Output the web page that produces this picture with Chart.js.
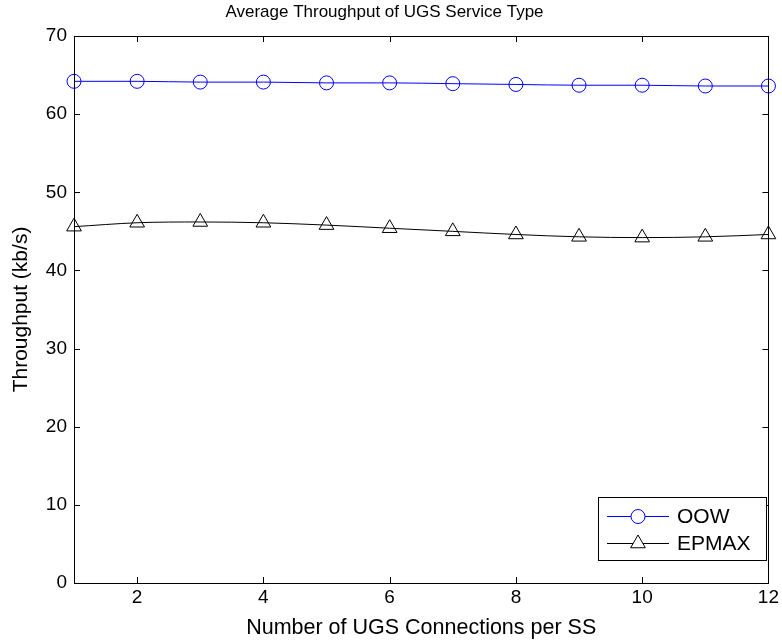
<!DOCTYPE html>
<html>
<head>
<meta charset="utf-8">
<script src="https://cdn.jsdelivr.net/npm/chart.js@4"></script>
<style>
  body { margin: 0; background: #fff; }
  canvas { display: block; }
</style>
</head>
<body>
<canvas id="ugs_chart" width="782" height="643"></canvas>
<script>
const connections = [1,2,3,4,5,6,7,8,9,10,11,12];
const oow_values = [64.2,64.2,64.1,64.1,64.0,64.0,63.9,63.8,63.7,63.7,63.6,63.6];
const epmax_values = [45.6,46.1,46.2,46.1,45.8,45.4,45.0,44.6,44.3,44.2,44.3,44.6];
const x_ticks = [2,4,6,8,10,12];
const y_ticks = [0,10,20,30,40,50,60,70];

const font_family = '"Liberation Sans", Arial, Helvetica, sans-serif';

// box round the plot, ticks pointing in, and the legend inside the plot
const matlab_frame = {
  id: 'matlab_frame',
  afterDraw(chart) {
    const ctx = chart.ctx;
    const area = chart.chartArea;
    const xs = chart.scales.x, ys = chart.scales.y;
    ctx.save();
    ctx.strokeStyle = '#000';
    ctx.lineWidth = 1;
    ctx.beginPath();
    x_ticks.forEach(v => {
      const px = Math.round(xs.getPixelForValue(v)) + 0.5;
      ctx.moveTo(px, area.bottom); ctx.lineTo(px, area.bottom - 6);
      ctx.moveTo(px, area.top); ctx.lineTo(px, area.top + 6);
    });
    y_ticks.forEach(v => {
      const py = Math.round(ys.getPixelForValue(v)) + 0.5;
      ctx.moveTo(area.left, py); ctx.lineTo(area.left + 6, py);
      ctx.moveTo(area.right, py); ctx.lineTo(area.right - 6, py);
    });
    ctx.stroke();
    ctx.strokeRect(Math.round(area.left) + 0.5, Math.round(area.top) + 0.5,
      Math.round(area.right - area.left), Math.round(area.bottom - area.top));

    // legend
    const box = {left: 598, top: 497, right: 766, bottom: 560};
    ctx.fillStyle = '#fff';
    ctx.fillRect(box.left, box.top, box.right - box.left, box.bottom - box.top);
    ctx.strokeStyle = '#000';
    ctx.strokeRect(box.left + 0.5, box.top + 0.5, box.right - box.left, box.bottom - box.top);
    const rows = [516, 543];
    chart.data.datasets.forEach((ds, i) => {
      const y = rows[i] + 0.5;
      ctx.strokeStyle = ds.borderColor;
      ctx.beginPath();
      ctx.moveTo(607, y); ctx.lineTo(669, y);
      ctx.stroke();
      ctx.fillStyle = '#fff';
      Chart.helpers.drawPoint(ctx, {pointStyle: ds.pointStyle, radius: ds.pointRadius, borderWidth: 1}, 638, y);
      ctx.fillStyle = '#000';
      ctx.font = '21px ' + font_family;
      ctx.textBaseline = 'middle';
      ctx.textAlign = 'left';
      ctx.fillText(ds.label, 677, y + 1);
    });
    ctx.restore();
  }
};

new Chart(document.getElementById('ugs_chart'), {
  type: 'line',
  data: {
    labels: connections,
    datasets: [{
      label: 'OOW',
      data: oow_values,
      borderColor: '#0000ff',
      borderWidth: 1,
      pointStyle: 'circle',
      pointRadius: 7,
      pointBorderColor: '#0000ff',
      pointBackgroundColor: 'rgba(0,0,0,0)',
      cubicInterpolationMode: 'monotone',
      clip: false
    }, {
      label: 'EPMAX',
      data: epmax_values,
      borderColor: '#000000',
      borderWidth: 1,
      pointStyle: 'triangle',
      pointRadius: 8.5,
      pointBorderColor: '#000000',
      pointBackgroundColor: 'rgba(0,0,0,0)',
      cubicInterpolationMode: 'monotone',
      clip: false
    }]
  },
  options: {
    responsive: false,
    animation: false,
    layout: { padding: { left: 0, right: 13, top: 0, bottom: 0 } },
    plugins: {
      legend: { display: false },
      tooltip: { enabled: false },
      title: {
        display: true,
        text: 'Average Throughput of UGS Service Type',
        color: '#000',
        font: { family: font_family, size: 17, weight: 'normal' },
        padding: { top: 2, bottom: 13.6 }
      }
    },
    scales: {
      x: {
        type: 'linear',
        min: 1,
        max: 12,
        afterBuildTicks: scale => { scale.ticks = x_ticks.map(v => ({value: v})); },
        afterFit: scale => { scale.height = 60; },
        grid: { display: false, drawTicks: false },
        border: { display: false },
        ticks: { color: '#000', padding: 3, maxRotation: 0, font: { family: font_family, size: 19 } },
        title: {
          display: true,
          text: 'Number of UGS Connections per SS',
          color: '#000',
          font: { family: font_family, size: 21.5 },
          padding: { top: 0, bottom: 2 }
        }
      },
      y: {
        min: 0,
        max: 70,
        afterBuildTicks: scale => { scale.ticks = y_ticks.map(v => ({value: v})); },
        afterFit: scale => { scale.width = 74; },
        grid: { display: false, drawTicks: false },
        border: { display: false },
        ticks: { color: '#000', padding: 7, font: { family: font_family, size: 19 } },
        title: {
          display: true,
          text: 'Throughput (kb/s)',
          color: '#000',
          font: { family: font_family, size: 21 },
          padding: { top: 9, bottom: 0 }
        }
      }
    }
  },
  plugins: [matlab_frame]
});
</script>
</body>
</html>
